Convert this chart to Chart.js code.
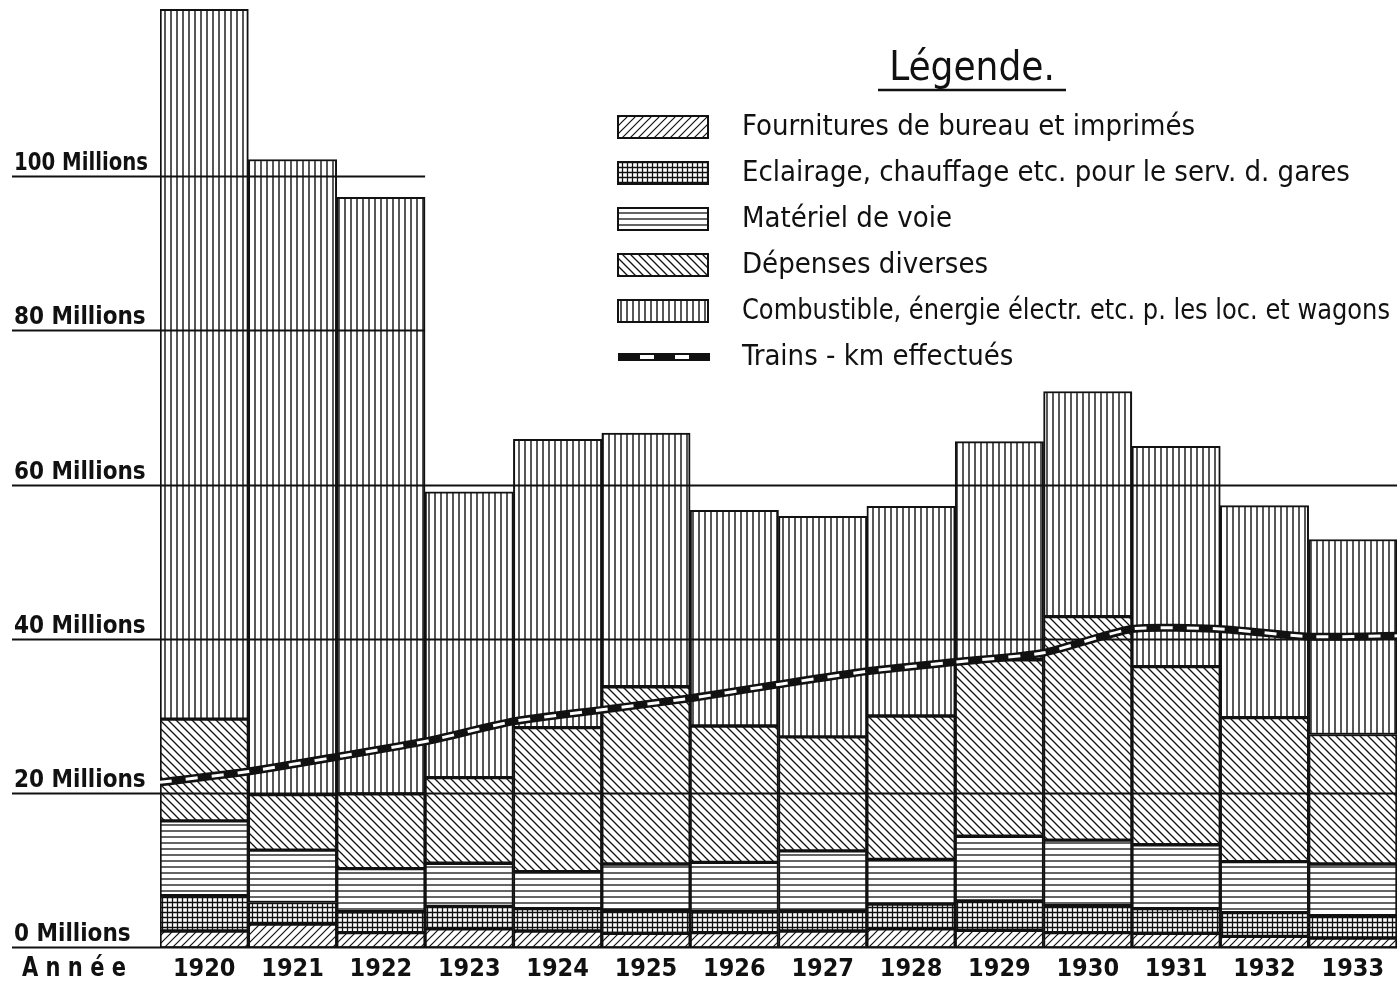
<!DOCTYPE html>
<html>
<head>
<meta charset="utf-8">
<script src="https://cdn.jsdelivr.net/npm/chart.js@4.4.1/dist/chart.umd.min.js"></script>
<style>
  body { margin: 0; background: #fff; }
  canvas { display: block; }
</style>
</head>
<body>
<canvas id="chart" width="1397" height="981"></canvas>
<script>
// years on the x axis
const years = ["1920", "1921", "1922", "1923", "1924", "1925", "1926", "1927", "1928", "1929", "1930", "1931", "1932", "1933"];

// expenses per year, millions
const fournitures = [2.2, 3.1, 2.0, 2.5, 2.2, 1.9, 2.0, 2.2, 2.5, 2.3, 2.0, 1.9, 1.5, 1.3];
const eclairage   = [4.6, 2.8, 2.7, 2.9, 2.9, 3.0, 2.7, 2.6, 3.2, 3.8, 3.5, 3.2, 3.1, 2.9];
const materiel    = [9.7, 6.8, 5.6, 5.6, 4.8, 6.0, 6.4, 7.8, 5.8, 8.4, 8.5, 8.3, 6.6, 6.7];
const depenses    = [13.2, 7.2, 9.7, 11.1, 18.7, 23.0, 17.7, 14.8, 18.6, 22.9, 29.0, 23.1, 18.7, 16.8];
const combustible = [92.1, 82.4, 77.4, 37.1, 37.4, 32.9, 28.0, 28.6, 27.2, 28.3, 29.2, 28.6, 27.5, 25.3];

// trains-km line, one point at the start of each year
const trainsYears = [1920, 1921, 1922, 1923, 1924, 1925, 1926, 1927, 1928, 1929, 1930, 1931, 1932, 1933, 1934];
const trainsKm    = [21.5, 22.9, 24.8, 26.8, 29.4, 30.9, 32.4, 34.2, 35.9, 37.1, 38.3, 41.4, 41.4, 40.4, 40.5];

const yTicks = [0, 20, 40, 60, 80, 100];

const FONT = '"DejaVu Sans Condensed", "DejaVu Sans", sans-serif';

function makePattern(w, h, draw) {
  const c = document.createElement("canvas");
  c.width = w; c.height = h;
  const g = c.getContext("2d");
  g.fillStyle = "#fff";
  g.fillRect(0, 0, w, h);
  g.strokeStyle = "#111";
  g.lineCap = "square";
  draw(g, w, h);
  return c.getContext("2d").createPattern(c, "repeat");
}

const pFourn = makePattern(8, 8, (g, w) => {
  g.lineWidth = 1.2;
  g.beginPath();
  g.moveTo(0, w); g.lineTo(w, 0);
  g.moveTo(-2, 2); g.lineTo(2, -2);
  g.moveTo(w - 2, w + 2); g.lineTo(w + 2, w - 2);
  g.stroke();
});
const pEclair = makePattern(5, 5, g => {
  g.lineWidth = 1.3;
  g.beginPath();
  g.moveTo(2.5, 0); g.lineTo(2.5, 5);
  g.moveTo(0, 2.5); g.lineTo(5, 2.5);
  g.stroke();
});
const pMateriel = makePattern(6, 6, g => {
  g.lineWidth = 1.3;
  g.beginPath();
  g.moveTo(0, 3); g.lineTo(6, 3);
  g.stroke();
});
const pDepenses = makePattern(8, 8, (g, w) => {
  g.lineWidth = 1.3;
  g.beginPath();
  g.moveTo(0, 0); g.lineTo(w, w);
  g.moveTo(-2, w - 2); g.lineTo(2, w + 2);
  g.moveTo(w - 2, -2); g.lineTo(w + 2, 2);
  g.stroke();
});
const pCombust = makePattern(6, 6, g => {
  g.lineWidth = 1.4;
  g.beginPath();
  g.moveTo(3, 0); g.lineTo(3, 6);
  g.stroke();
});

function barSet(label, data, pattern) {
  return {
    type: "bar", label: label, data: data, backgroundColor: pattern,
    borderColor: "#111", borderWidth: 2, borderSkipped: false,
    stack: "costs", grouped: false, order: 2
  };
}

const trainsPoints = trainsYears.map((y, i) => ({ x: y, y: trainsKm[i] }));

// gridlines + y labels, drawn just before the trains line
const gridPlugin = {
  id: "grid",
  beforeDatasetDraw(chart, args) {
    if (args.index !== 5) return;
    const ctx = chart.ctx;
    const y = chart.scales.y, x = chart.scales.x;
    const endShort = x.getPixelForValue(2) + (x.getPixelForValue(1) - x.getPixelForValue(0)) / 2;
    ctx.save();
    ctx.strokeStyle = "#111";
    ctx.lineWidth = 2;
    yTicks.forEach(v => {
      const py = Math.round(y.getPixelForValue(v)) - 0.5;
      ctx.beginPath();
      ctx.moveTo(12, py);
      ctx.lineTo(v >= 80 ? endShort : chart.width, py);
      ctx.stroke();
    });
    ctx.restore();
  },
  afterDraw(chart) {
    const ctx = chart.ctx;
    const y = chart.scales.y;
    ctx.save();
    ctx.fillStyle = "#111";
    ctx.font = "bold 24px " + FONT;
    ctx.textAlign = "left";
    ctx.textBaseline = "alphabetic";
    yTicks.forEach(v => {
      ctx.fillText(v + " Millions", 14, y.getPixelForValue(v) - 7, 134);
    });
    ctx.font = "bold 27px " + FONT;
    ctx.textBaseline = "middle";
    ctx.fillText("A n n é e", 22, 969, 104);

    // legend
    ctx.font = "40px " + FONT;
    ctx.textAlign = "center";
    ctx.textBaseline = "alphabetic";
    ctx.fillText("Légende.", 972, 80);
    ctx.lineWidth = 2.5;
    ctx.strokeStyle = "#111";
    ctx.beginPath();
    ctx.moveTo(878, 90); ctx.lineTo(1066, 90);
    ctx.stroke();

    ctx.textAlign = "left";
    ctx.textBaseline = "middle";
    ctx.font = "29px " + FONT;
    const rows = chart.data.datasets.filter(d => !d.noLegend);
    rows.forEach((d, i) => {
      const cy = 127 + i * 46;
      if (d.type === "bar") {
        ctx.fillStyle = d.backgroundColor;
        ctx.fillRect(618, cy - 11, 90, 22);
        ctx.lineWidth = 2;
        ctx.strokeRect(618, cy - 11, 90, 22);
      } else {
        ctx.fillStyle = "#111";
        ctx.fillRect(618, cy - 4, 92, 8);
        ctx.fillStyle = "#fff";
        ctx.fillRect(640, cy - 2, 14, 4);
        ctx.fillRect(675, cy - 2, 14, 4);
      }
      ctx.fillStyle = "#111";
      ctx.fillText(d.label, 742, cy, 648);
    });
    ctx.restore();
  }
};

new Chart(document.getElementById("chart"), {
  type: "bar",
  data: {
    labels: years,
    datasets: [
      barSet("Fournitures de bureau et imprimés", fournitures, pFourn),
      barSet("Eclairage, chauffage etc. pour le serv. d. gares", eclairage, pEclair),
      barSet("Matériel de voie", materiel, pMateriel),
      barSet("Dépenses diverses", depenses, pDepenses),
      barSet("Combustible, énergie électr. etc. p. les loc. et wagons", combustible, pCombust),
      {
        type: "line", label: "Trains - km effectués", data: trainsPoints,
        xAxisID: "xl", stack: "tk1", order: 1,
        borderColor: "#111", borderWidth: 8, pointRadius: 0, tension: 0.2, fill: false
      },
      {
        type: "line", label: "dash", noLegend: true, data: trainsPoints,
        xAxisID: "xl", stack: "tk2", order: 0,
        borderColor: "#fff", borderWidth: 3, borderDash: [12, 14], pointRadius: 0, tension: 0.2, fill: false
      }
    ]
  },
  options: {
    responsive: false,
    animation: false,
    layout: { padding: { left: 160, right: 0, top: 0, bottom: 0 } },
    plugins: { legend: { display: false }, tooltip: { enabled: false } },
    datasets: { bar: { categoryPercentage: 1, barPercentage: 1 } },
    scales: {
      x: {
        stacked: true,
        grid: { display: false, drawTicks: false },
        border: { display: false },
        ticks: { color: "#111", font: { family: FONT, size: 25, weight: "bold" }, padding: 6, maxRotation: 0 },
        afterFit(s) { s.height = 33; }
      },
      xl: { type: "linear", display: false, offset: false, min: 1920, max: 1934 },
      y: { display: false, stacked: true, min: 0, max: 123 }
    }
  },
  plugins: [gridPlugin]
});
</script>
</body>
</html>
